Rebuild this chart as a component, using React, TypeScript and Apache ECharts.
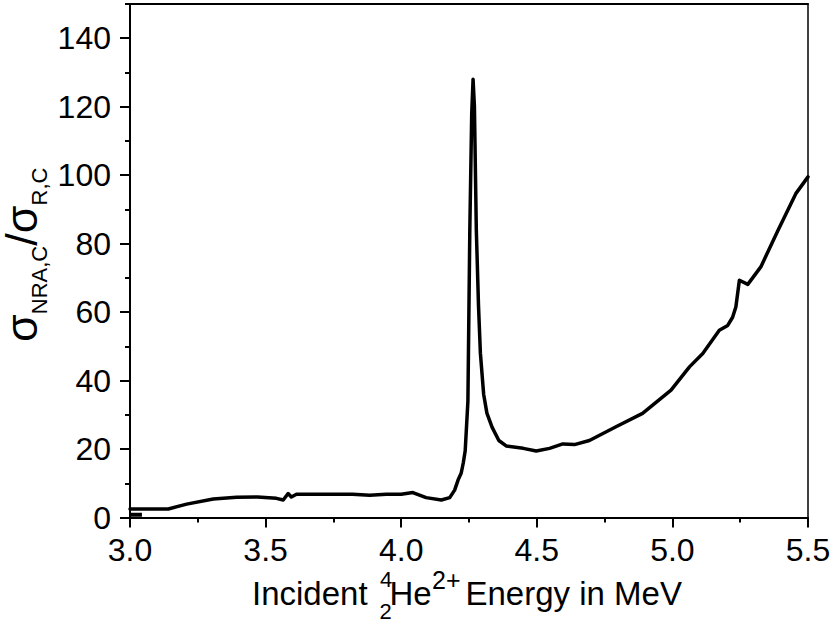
import React, { useEffect, useRef } from "react";
import * as echarts from "echarts";

const energy = [
  3.0, 3.141, 3.209, 3.307, 3.393, 3.47, 3.54, 3.565, 3.583, 3.595, 3.614, 3.7, 3.82, 3.884, 3.945,
  4.0, 4.043, 4.092, 4.148, 4.179, 4.197, 4.21, 4.221, 4.229, 4.236, 4.246, 4.253, 4.26, 4.265,
  4.27, 4.277, 4.285, 4.292, 4.304, 4.316, 4.335, 4.36, 4.387, 4.45, 4.498, 4.547, 4.596, 4.639,
  4.694, 4.792, 4.89, 4.995, 5.063, 5.112, 5.173, 5.204, 5.222, 5.234, 5.247, 5.278, 5.326, 5.39,
  5.455, 5.5,
];
const ratio = [
  2.5, 2.5, 3.9, 5.4, 5.9, 6.0, 5.6, 5.1, 7.0, 6.0, 6.8, 6.8, 6.8, 6.5, 6.8,
  6.8, 7.3, 5.8, 5.1, 5.8, 8.0, 11.0, 12.9, 16.0, 19.5, 34.0, 84.0, 118.0, 128.0,
  120.0, 84.0, 62.0, 48.0, 36.0, 30.5, 26.4, 22.5, 20.9, 20.2, 19.4, 20.2, 21.5, 21.3,
  22.5, 26.5, 30.4, 37.2, 44.0, 47.9, 54.7, 56.1, 58.5, 61.5, 69.3, 68.1, 73.2, 84.0,
  94.6, 99.5,
];
const stubEnergy = [3.0, 3.044];
const stubRatio = [0.8, 0.8];

const xTicks = [3.0, 3.5, 4.0, 4.5, 5.0, 5.5];
const yMajorTicks = [0, 20, 40, 60, 80, 100, 120, 140];

const FONT = '"Liberation Sans", Arial, Helvetica, sans-serif';

function measure(text: string, size: number): number {
  const c = document.createElement("canvas").getContext("2d");
  if (!c) return text.length * size * 0.55;
  c.font = `${size}px "Liberation Sans"`;
  return c.measureText(text).width;
}

export default function App() {
  const ref = useRef<HTMLDivElement>(null);
  useEffect(() => {
    if (!ref.current) return;
    const chart = echarts.init(ref.current, null, { renderer: "svg" });

    // y-axis title pieces (rotated, read bottom to top)
    const yPieces = [
      { t: "σ", fs: 45, dy: 0 },
      { t: "NRA,C", fs: 22, dy: 10 },
      { t: "/", fs: 45, dy: 0 },
      { t: "σ", fs: 45, dy: 0 },
      { t: "R,C", fs: 22, dy: 10 },
    ];
    let cx = 0;
    const yChildren: any[] = [];
    yPieces.forEach((p) => {
      yChildren.push({
        type: "text",
        x: cx,
        y: p.dy - 0.3465 * p.fs,
        style: {
          text: p.t,
          font: `${p.fs}px ${FONT}`,
          fill: "#000",
          align: "left",
          verticalAlign: "middle",
          lineHeight: Math.round(p.fs * 0.8),
        },
      });
      cx += measure(p.t, p.fs);
    });

    const mainFs = 33;
    const smallFs = 22;
    const baseY = 605;
    const xTitle = [
      { t: "Incident", x: 252, fs: mainFs, base: baseY },
      { t: "4", x: 380, fs: smallFs, base: 587.5 },
      { t: "2", x: 379.5, fs: smallFs, base: 619 },
      { t: "He", x: 389.5, fs: mainFs, base: baseY },
      { t: "2+", x: 432, fs: 25, base: 589 },
      { t: "Energy in MeV", x: 465.5, fs: mainFs, base: baseY },
    ].map((p) => ({
      type: "text",
      x: p.x,
      y: p.base - 0.3465 * p.fs,
      style: {
        text: p.t,
        font: `${p.fs}px ${FONT}`,
        fill: "#000",
        align: "left",
        verticalAlign: "middle",
        lineHeight: Math.round(p.fs * 0.8),
      },
    }));

    const data = energy.map((e, i) => [e, ratio[i]]);
    const stub = stubEnergy.map((e, i) => [e, stubRatio[i]]);

    chart.setOption({
      animation: false,
      backgroundColor: "#fff",
      grid: { left: 130, right: 26, top: 4, bottom: 113.5, containLabel: false },
      xAxis: [
        {
          type: "value",
          min: 3,
          max: 5.5,
          interval: 0.5,
          position: "bottom",
          axisLine: { show: true, onZero: false, lineStyle: { color: "#000", width: 2 } },
          axisTick: { show: true, inside: false, length: 10, lineStyle: { color: "#000", width: 2 } },
          minorTick: { show: true, splitNumber: 2, length: 5, lineStyle: { color: "#000", width: 2 } },
          axisLabel: {
            margin: 16,
            fontSize: 32,
            fontFamily: FONT,
            color: "#000",
            customValues: xTicks,
            formatter: (v: number) => v.toFixed(1),
          },
          splitLine: { show: false },
          minorSplitLine: { show: false },
        },
        {
          type: "value",
          min: 3,
          max: 5.5,
          position: "top",
          axisLine: { show: true, onZero: false, lineStyle: { color: "#000", width: 2 } },
          axisTick: { show: false },
          axisLabel: { show: false },
          splitLine: { show: false },
        },
      ],
      yAxis: [
        {
          type: "value",
          min: 0,
          max: 150,
          interval: 10,
          position: "left",
          axisLine: { show: true, onZero: false, lineStyle: { color: "#000", width: 2 } },
          axisTick: { show: true, inside: false, length: 5, lineStyle: { color: "#000", width: 2 } },
          axisLabel: {
            margin: 19,
            fontSize: 32,
            fontFamily: FONT,
            color: "#000",
            customValues: yMajorTicks,
            formatter: (v: number) => String(v),
          },
          splitLine: { show: false },
        },
        {
          type: "value",
          min: 0,
          max: 150,
          position: "left",
          axisLine: { show: false },
          axisTick: { show: true, inside: false, length: 10, customValues: yMajorTicks, lineStyle: { color: "#000", width: 2 } },
          axisLabel: { show: false },
          splitLine: { show: false },
        },
        {
          type: "value",
          min: 0,
          max: 150,
          position: "right",
          axisLine: { show: true, onZero: false, lineStyle: { color: "#000", width: 1.5 } },
          axisTick: { show: false },
          axisLabel: { show: false },
          splitLine: { show: false },
        },
      ],
      graphic: [
        { type: "group", x: 37.5, y: 342, rotation: Math.PI / 2, children: yChildren },
        ...xTitle,
      ],
      series: [
        {
          type: "line",
          xAxisIndex: 0,
          yAxisIndex: 0,
          data,
          showSymbol: false,
          symbol: "none",
          smooth: false,
          lineStyle: { color: "#000", width: 3.5, join: "round", cap: "round" },
          z: 5,
        },
        {
          type: "line",
          xAxisIndex: 0,
          yAxisIndex: 0,
          data: stub,
          showSymbol: false,
          symbol: "none",
          lineStyle: { color: "#000", width: 4 },
          z: 5,
        },
      ],
    });
    return () => chart.dispose();
  }, []);
  return (
    <div
      ref={ref}
      style={{ position: "fixed", left: 0, top: 0, width: 834, height: 631, background: "#fff" }}
    />
  );
}
